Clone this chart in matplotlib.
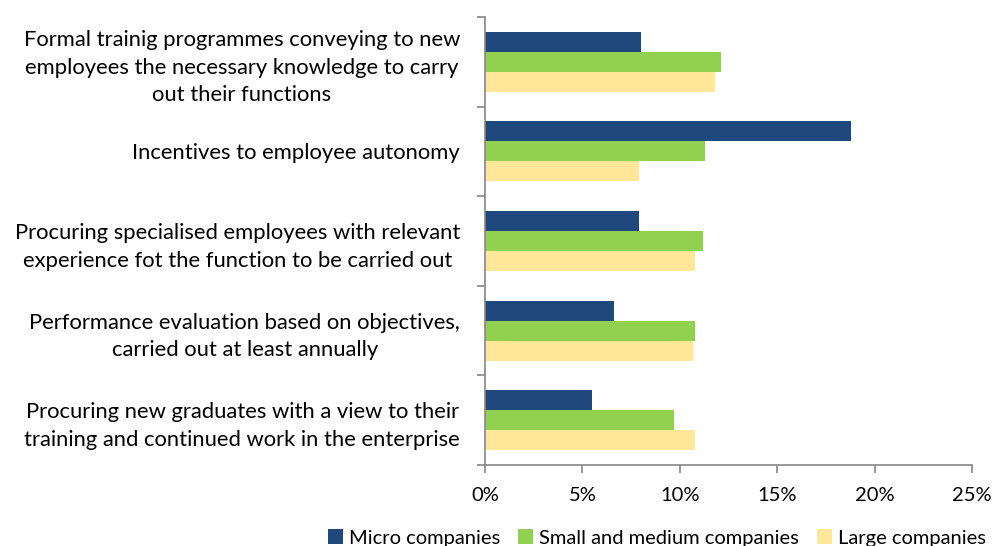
import matplotlib
matplotlib.use("Agg")
import matplotlib.pyplot as plt
import numpy as np

plt.rcParams['font.family'] = ['Lato', 'DejaVu Sans']

categories = [
    "Formal trainig programmes conveying to new\nemployees the necessary knowledge to carry\nout their functions",
    "Incentives to employee autonomy",
    "Procuring specialised employees with relevant\nexperience fot the function to be carried out",
    "Performance evaluation based on objectives,\ncarried out at least annually",
    "Procuring new graduates with a view to their\ntraining and continued work in the enterprise",
]
series_names = ["Micro companies", "Small and medium companies", "Large companies"]
micro = [8.0, 18.8, 7.9, 6.6, 5.5]
sme = [12.1, 11.3, 11.2, 10.8, 9.7]
large = [11.8, 7.9, 10.8, 10.7, 10.8]
colors = ["#1F497D", "#92D050", "#FFE699"]

fig = plt.figure(figsize=(9.98, 5.46), dpi=100)
ax = fig.add_axes([485/998, 1-465/546, (972-485)/998, (465-17)/546])

y = np.arange(len(categories))
h = 0.223
for i, (vals, name, c) in enumerate(zip([micro, sme, large], series_names, colors)):
    ax.barh(y + (i - 1) * h, vals, height=h, color=c, label=name)

ax.set_xlim(0, 25)
ax.set_ylim(len(categories) - 0.5, -0.5)
ax.set_xticks(np.arange(0, 26, 5))
ax.set_xticklabels([f"{v}%" for v in range(0, 26, 5)], fontsize=14.5)

# boundary ticks between categories, labels at category centres
ax.set_yticks(np.arange(-0.5, len(categories), 1))
ax.set_yticklabels([])
ax.set_yticks(y, minor=True)
ax.set_yticklabels(categories, minor=True, fontsize=15.8, multialignment='center',
                   linespacing=1.48)
ax.tick_params(axis='y', which='minor', length=0, pad=18)
ax.tick_params(axis='y', which='major', length=6, color="#868686", width=1.2)
ax.tick_params(axis='x', length=6, color="#868686", width=1.2, pad=10)

for s in ['top', 'right']:
    ax.spines[s].set_visible(False)
for s in ['left', 'bottom']:
    ax.spines[s].set_color("#868686")
    ax.spines[s].set_linewidth(1.2)

fig.legend(loc='center', bbox_to_anchor=(657/998, 1-538/546), ncol=3, frameon=False,
           fontsize=14.5, handlelength=0.75, handleheight=0.75, handletextpad=0.3,
           columnspacing=0.9)

fig.savefig("out.png", dpi=100)
